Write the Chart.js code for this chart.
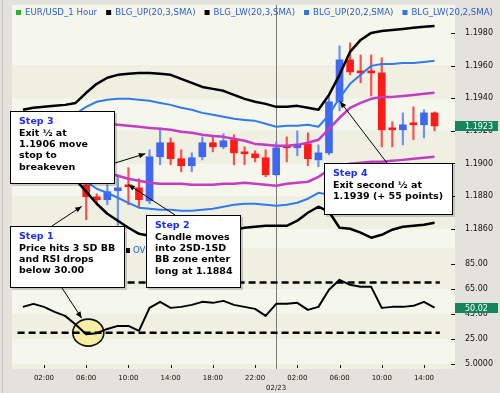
<!DOCTYPE html>
<html>
<head>
<meta charset="utf-8">
<title>EUR/USD 1 Hour</title>
<script src="https://cdn.jsdelivr.net/npm/chart.js@4.4.1/dist/chart.umd.min.js"></script>
<style>
  html, body { margin: 0; padding: 0; background: #e4e2dc; overflow: hidden; }
  canvas { display: block; }
</style>
</head>
<body>
<canvas id="fxChart" width="500" height="393"></canvas>
<script>
// ---- data (hour 0 = 00:00 on 02/22) ----
const hours = [0, 1, 2, 3, 4, 5, 6, 7, 8, 9, 10, 11, 12, 13, 14, 15, 16, 17, 18, 19,
               20, 21, 22, 23, 24, 25, 26, 27, 28, 29, 30, 31, 32, 33, 34, 35, 36, 37, 38, 39];

const openPrice = [1.19084, 1.19108, 1.19053, 1.19022, 1.19047, 1.18986, 1.18869, 1.18796, 1.18778, 1.18833,
                   1.18863, 1.18851, 1.18771, 1.19041, 1.19127, 1.19029, 1.18986, 1.19041, 1.19127, 1.19102,
                   1.19145, 1.19071, 1.19059, 1.19035, 1.18931, 1.19102, 1.19096, 1.19120, 1.19022, 1.19065,
                   1.19378, 1.19635, 1.19567, 1.19561, 1.19555, 1.19212, 1.19206, 1.19243, 1.19237, 1.19310];
const highPrice = [1.19133, 1.19145, 1.19084, 1.19071, 1.19084, 1.19022, 1.18912, 1.18814, 1.18869, 1.18931,
                   1.18974, 1.18906, 1.19084, 1.19218, 1.19157, 1.19084, 1.19065, 1.19163, 1.19163, 1.19182,
                   1.19176, 1.19102, 1.19078, 1.19084, 1.19133, 1.19163, 1.19200, 1.19188, 1.19114, 1.19408,
                   1.19720, 1.19739, 1.19665, 1.19665, 1.19647, 1.19255, 1.19310, 1.19347, 1.19329, 1.19316];
const lowPrice = [1.19047, 1.19022, 1.18992, 1.18974, 1.18961, 1.18900, 1.18655, 1.18759, 1.18747, 1.18490,
                  1.18747, 1.18735, 1.18753, 1.18992, 1.18992, 1.18949, 1.18949, 1.19022, 1.19071, 1.19090,
                  1.18992, 1.18992, 1.19010, 1.18918, 1.18925, 1.19010, 1.19047, 1.18986, 1.18980, 1.19053,
                  1.19322, 1.19543, 1.19494, 1.19414, 1.19102, 1.19102, 1.19114, 1.19145, 1.19157, 1.19200];
const closePrice = [1.19108, 1.19053, 1.19022, 1.19047, 1.18986, 1.18931, 1.18796, 1.18778, 1.18827, 1.18851,
                    1.18857, 1.18778, 1.19041, 1.19127, 1.19029, 1.18986, 1.19035, 1.19127, 1.19102, 1.19139,
                    1.19065, 1.19059, 1.19035, 1.18931, 1.19096, 1.19096, 1.19114, 1.19029, 1.19065, 1.19378,
                    1.19635, 1.19561, 1.19555, 1.19555, 1.19206, 1.19206, 1.19237, 1.19237, 1.19310, 1.19230];

// Bollinger bands: 3 SD (black), 2 SD (blue), 1 SD (magenta)
const bandUp3 = [1.19329, 1.19341, 1.19347, 1.19353, 1.19359, 1.19371, 1.19433, 1.19488, 1.19525, 1.19543,
                 1.19549, 1.19555, 1.19555, 1.19549, 1.19543, 1.19518, 1.19494, 1.19469, 1.19457, 1.19445,
                 1.19420, 1.19396, 1.19378, 1.19365, 1.19347, 1.19347, 1.19353, 1.19341, 1.19329, 1.19420,
                 1.19543, 1.19684, 1.19757, 1.19800, 1.19812, 1.19818, 1.19824, 1.19831, 1.19837, 1.19843];
const bandLw3 = [1.18974, 1.18961, 1.18949, 1.18937, 1.18925, 1.18900, 1.18827, 1.18753, 1.18692, 1.18649,
                 1.18606, 1.18569, 1.18557, 1.18551, 1.18545, 1.18545, 1.18551, 1.18557, 1.18569, 1.18582,
                 1.18594, 1.18606, 1.18612, 1.18618, 1.18618, 1.18618, 1.18649, 1.18698, 1.18735, 1.18704,
                 1.18606, 1.18600, 1.18576, 1.18545, 1.18563, 1.18594, 1.18612, 1.18618, 1.18625, 1.18637];
const bandUp2 = [1.19280, 1.19280, 1.19286, 1.19286, 1.19292, 1.19304, 1.19347, 1.19378, 1.19390, 1.19396,
                 1.19396, 1.19390, 1.19384, 1.19371, 1.19359, 1.19341, 1.19329, 1.19310, 1.19298, 1.19286,
                 1.19274, 1.19267, 1.19261, 1.19243, 1.19225, 1.19231, 1.19231, 1.19237, 1.19225, 1.19298,
                 1.19402, 1.19488, 1.19543, 1.19598, 1.19610, 1.19610, 1.19616, 1.19616, 1.19622, 1.19629];
const bandLw2 = [1.18992, 1.18986, 1.18980, 1.18974, 1.18967, 1.18949, 1.18888, 1.18845, 1.18820, 1.18790,
                 1.18759, 1.18729, 1.18723, 1.18716, 1.18716, 1.18710, 1.18710, 1.18716, 1.18723, 1.18735,
                 1.18747, 1.18753, 1.18753, 1.18747, 1.18741, 1.18747, 1.18759, 1.18784, 1.18820, 1.18808,
                 1.18778, 1.18759, 1.18741, 1.18729, 1.18741, 1.18753, 1.18765, 1.18778, 1.18784, 1.18790];
const bandUp1 = [1.19206, 1.19206, 1.19206, 1.19212, 1.19212, 1.19218, 1.19231, 1.19237, 1.19243, 1.19237,
                 1.19231, 1.19225, 1.19218, 1.19212, 1.19206, 1.19194, 1.19188, 1.19176, 1.19169, 1.19163,
                 1.19151, 1.19139, 1.19120, 1.19114, 1.19108, 1.19108, 1.19114, 1.19127, 1.19145, 1.19212,
                 1.19280, 1.19341, 1.19371, 1.19396, 1.19408, 1.19408, 1.19414, 1.19420, 1.19427, 1.19433];
const bandLw1 = [1.19022, 1.19016, 1.19010, 1.19004, 1.18998, 1.18986, 1.18974, 1.18955, 1.18943, 1.18925,
                 1.18906, 1.18894, 1.18882, 1.18876, 1.18876, 1.18876, 1.18869, 1.18869, 1.18869, 1.18876,
                 1.18876, 1.18882, 1.18876, 1.18869, 1.18863, 1.18876, 1.18882, 1.18888, 1.18918, 1.18961,
                 1.18986, 1.18998, 1.19004, 1.19010, 1.19010, 1.19016, 1.19022, 1.19029, 1.19035, 1.19041];

const rsiValues = [50.6, 53.0, 50.6, 46.6, 43.4, 36.6, 28.8, 29.6, 33.0, 35.4,
                   35.4, 31.4, 49.8, 54.6, 49.8, 50.6, 52.2, 54.6, 53.8, 55.4,
                   52.2, 50.6, 49.0, 43.4, 53.0, 53.0, 53.8, 48.2, 50.6, 64.2,
                   72.2, 68.2, 66.6, 66.6, 49.8, 50.6, 50.6, 51.4, 54.6, 50.02];
const rsiLevels = [70, 30];
const rsiLevelSpan = [-0.5, 39.5];

const timeTicks = [2, 6, 10, 14, 18, 22, 26, 30, 34, 38];
const timeTickLabels = ['02:00', '06:00', '10:00', '14:00', '18:00', '22:00', '02:00', '06:00', '10:00', '14:00'];
const dayBreaks = [24];
const dayBreakLabels = ['02/23'];
const priceTicks = [1.186, 1.188, 1.190, 1.192, 1.194, 1.196, 1.198];
const rsiTicks = [5, 25, 45, 65, 85];
const rsiTickLabels = ['5.0000', '25.00', '45.00', '65.00', '85.00'];
const lastPrice = 1.1923;
const lastRsi = 50.02;

const legendLabels = ['EUR/USD_1 Hour', 'BLG_UP(20,3,SMA)', 'BLG_LW(20,3,SMA)', 'BLG_UP(20,2,SMA)', 'BLG_LW(20,2,SMA)'];

// ---- styling ----
const FONT = '"DejaVu Sans", Verdana, sans-serif';
const UP_COLOR = '#4068ee';
const DOWN_COLOR = '#ff1a1a';
const UP_WICK = '#6f8ff5';
const DOWN_WICK = '#ff4d4d';
const legendSwatches = ['#29b329', '#000000', '#000000', '#2f73ee', '#2f73ee'];

Chart.defaults.font.family = FONT;
Chart.defaults.color = '#111';

const isUp = hours.map((h, i) => closePrice[i] > openPrice[i]);
const series = arr => hours.map((h, i) => ({ x: h, y: arr[i] }));

const notes = [
  { rect: [10, 111, 105, 73], lines: ['Step 3', 'Exit ½ at', '1.1906 move', 'stop to', 'breakeven'],
    arrows: [{ from: [115, 163], x: 11.6, y: 1.1906 }] },
  { rect: [10, 226, 115, 62], lines: ['Step 1', 'Price hits 3 SD BB', 'and RSI drops', 'below 30.00'],
    arrows: [{ from: [52, 226], x: 5.57, y: 1.18737 }, { from: [62, 288], x: 5.57, rsi: 41.6 }] },
  { rect: [146, 215, 95, 73], lines: ['Step 2', 'Candle moves', 'into 2SD-1SD', 'BB zone enter', 'long at 1.1884'],
    arrows: [{ from: [175, 215], x: 10, y: 1.1887 }] },
  { rect: [324, 163, 129, 52], lines: ['Step 4', 'Exit second ½ at', '1.1939 (+ 55 points)'],
    arrows: [{ from: [387, 163], x: 30.05, y: 1.1938 }] }
];

function drawStripes(ctx, area, scale, edgeValues, firstDark) {
  const edges = [scale.top].concat(edgeValues.map(v => scale.getPixelForValue(v)), [scale.bottom]);
  for (let i = 0; i < edges.length - 1; i++) {
    const dark = (i % 2 === 0) === firstDark;
    ctx.fillStyle = dark ? '#eff0e2' : '#f6f7ec';
    ctx.fillRect(area.left, edges[i], area.right - area.left, edges[i + 1] - edges[i]);
  }
}

function drawArrow(ctx, x1, y1, x2, y2) {
  const ang = Math.atan2(y2 - y1, x2 - x1);
  ctx.beginPath();
  ctx.moveTo(x1, y1);
  ctx.lineTo(x2, y2);
  ctx.stroke();
  ctx.beginPath();
  ctx.moveTo(x2, y2);
  ctx.lineTo(x2 - 7 * Math.cos(ang - 0.4), y2 - 7 * Math.sin(ang - 0.4));
  ctx.lineTo(x2 - 7 * Math.cos(ang + 0.4), y2 - 7 * Math.sin(ang + 0.4));
  ctx.closePath();
  ctx.fill();
}

function valueTag(ctx, area, scale, value, text) {
  const y = scale.getPixelForValue(value);
  ctx.fillStyle = '#16855d';
  ctx.fillRect(area.right, Math.round(y) - 5, 43, 10);
  ctx.fillStyle = '#ffffff';
  ctx.font = '8px ' + FONT;
  ctx.textAlign = 'left';
  ctx.textBaseline = 'middle';
  ctx.fillText(text, area.right + 10, Math.round(y) + 0.5);
}

const chartDecor = {
  id: 'chartDecor',
  beforeDraw(chart) {
    const { ctx, chartArea: a, scales } = chart;
    ctx.save();
    ctx.fillStyle = '#e4e2dc';
    ctx.fillRect(0, 0, chart.width, chart.height);
    ctx.strokeStyle = '#c4c2bb';
    ctx.lineWidth = 1;
    ctx.beginPath();
    ctx.moveTo(2.5, 0);
    ctx.lineTo(2.5, chart.height);
    ctx.stroke();
    drawStripes(ctx, a, scales.y, priceTicks.slice(0, -1).reverse(), false);
    drawStripes(ctx, a, scales.rsi, rsiTicks.slice(0, -1).reverse(), true);
    ctx.restore();
  },
  beforeDatasetsDraw(chart) {
    const { ctx, chartArea: a, scales } = chart;
    ctx.save();
    // day separator
    ctx.strokeStyle = '#7a7a7a';
    ctx.lineWidth = 1;
    dayBreaks.forEach(h => {
      const x = Math.round(scales.x.getPixelForValue(h)) + 0.5;
      ctx.beginPath();
      ctx.moveTo(x, a.top);
      ctx.lineTo(x, a.bottom);
      ctx.stroke();
    });
    // oversold highlight
    const cx = scales.x.getPixelForValue(6.2);
    const cy = scales.rsi.getPixelForValue(30);
    ctx.beginPath();
    ctx.ellipse(cx, cy, 15.5, 13.5, 0, 0, Math.PI * 2);
    ctx.fillStyle = '#f6efa2';
    ctx.fill();
    ctx.lineWidth = 1.6;
    ctx.strokeStyle = '#111';
    ctx.stroke();
    ctx.restore();
  },
  afterDraw(chart) {
    const { ctx, chartArea: a, scales } = chart;
    ctx.save();

    // tick marks inside the plot edge
    ctx.strokeStyle = '#111';
    ctx.lineWidth = 1;
    [scales.y, scales.rsi].forEach(s => {
      s.ticks.forEach(t => {
        const y = Math.round(s.getPixelForValue(t.value)) + 0.5;
        ctx.beginPath();
        ctx.moveTo(a.right - 4, y);
        ctx.lineTo(a.right, y);
        ctx.stroke();
      });
    });
    scales.x.ticks.forEach(t => {
      const x = Math.round(scales.x.getPixelForValue(t.value)) + 0.5;
      ctx.beginPath();
      ctx.moveTo(x, a.bottom - 4);
      ctx.lineTo(x, a.bottom - 1);
      ctx.stroke();
    });

    // date under the axis
    ctx.fillStyle = '#111';
    ctx.font = '7px ' + FONT;
    ctx.textAlign = 'center';
    ctx.textBaseline = 'middle';
    dayBreaks.forEach((h, i) => {
      ctx.fillText(dayBreakLabels[i], scales.x.getPixelForValue(h), 388);
    });

    // legend strip
    ctx.font = '8.6px ' + FONT;
    ctx.textAlign = 'left';
    let lx = 16;
    legendLabels.forEach((label, i) => {
      ctx.fillStyle = legendSwatches[i];
      ctx.fillRect(lx, 10, 5, 5);
      ctx.fillStyle = '#2a5bd6';
      ctx.fillText(label, lx + 9, 13);
      lx += 9 + ctx.measureText(label).width + 9;
    });
    // RSI pane legend, mostly hidden by the note box
    ctx.fillStyle = '#111';
    ctx.fillRect(126, 248, 4, 5);
    ctx.fillStyle = '#2a5bd6';
    ctx.fillText('OVERBOUGHT', 133, 251);

    // value tags on the right axis
    valueTag(ctx, a, scales.y, lastPrice, lastPrice.toFixed(4));
    valueTag(ctx, a, scales.rsi, lastRsi, lastRsi.toFixed(2));

    // notes with arrows
    notes.forEach(n => {
      const [bx, by, bw, bh] = n.rect;
      ctx.fillStyle = 'rgba(0,0,0,0.18)';
      ctx.fillRect(bx + 2, by + 2, bw, bh);
      ctx.fillStyle = '#ffffff';
      ctx.fillRect(bx, by, bw, bh);
      ctx.strokeStyle = '#000';
      ctx.lineWidth = 1;
      ctx.strokeRect(bx + 0.5, by + 0.5, bw - 1, bh - 1);
      ctx.font = 'bold 9.5px ' + FONT;
      ctx.textAlign = 'left';
      ctx.textBaseline = 'middle';
      n.lines.forEach((line, i) => {
        ctx.fillStyle = i === 0 ? '#1c2cf2' : '#000';
        ctx.fillText(line, bx + 9, by + 11 + i * 11.3);
      });
    });
    ctx.strokeStyle = '#000';
    ctx.fillStyle = '#000';
    ctx.lineWidth = 1;
    notes.forEach(n => {
      n.arrows.forEach(ar => {
        const tx = scales.x.getPixelForValue(ar.x);
        const ty = ar.rsi !== undefined ? scales.rsi.getPixelForValue(ar.rsi) : scales.y.getPixelForValue(ar.y);
        drawArrow(ctx, ar.from[0], ar.from[1], tx, ty);
      });
    });
    ctx.restore();
  }
};

const lineSet = (label, arr, color, width, axis) => ({
  type: 'line', label, data: series(arr), yAxisID: axis || 'y',
  borderColor: color, borderWidth: width, pointRadius: 0, tension: 0,
  borderJoinStyle: 'round', fill: false
});

new Chart(document.getElementById('fxChart'), {
  type: 'line',
  data: {
    datasets: [
      lineSet('BLG_UP(20,3,SMA)', bandUp3, '#000000', 2.5),
      lineSet('BLG_LW(20,3,SMA)', bandLw3, '#000000', 2.5),
      lineSet('BLG_UP(20,2,SMA)', bandUp2, '#2f7bf0', 2),
      lineSet('BLG_LW(20,2,SMA)', bandLw2, '#2f7bf0', 2),
      lineSet('BLG_UP(20,1,SMA)', bandUp1, '#c43cc4', 2.5),
      lineSet('BLG_LW(20,1,SMA)', bandLw1, '#c43cc4', 2.5),
      lineSet('RSI', rsiValues, '#000000', 2, 'rsi'),
      ...rsiLevels.map(level => ({
        type: 'line', label: 'RSI ' + level, yAxisID: 'rsi',
        data: rsiLevelSpan.map(h => ({ x: h, y: level })),
        borderColor: '#000', borderWidth: 2.5, borderDash: [7, 4], pointRadius: 0
      })),
      {
        type: 'bar', label: 'EUR/USD_1 Hour',
        data: hours.map((h, i) => ({ x: h, y: [openPrice[i], closePrice[i]] })),
        backgroundColor: isUp.map(u => u ? UP_COLOR : DOWN_COLOR),
        barThickness: 7, minBarLength: 2, grouped: false, borderWidth: 0
      },
      {
        type: 'bar', label: 'range',
        data: hours.map((h, i) => ({ x: h, y: [lowPrice[i], highPrice[i]] })),
        backgroundColor: isUp.map(u => u ? UP_WICK : DOWN_WICK),
        barThickness: 1.5, grouped: false, borderWidth: 0
      }
    ]
  },
  options: {
    responsive: false,
    animation: false,
    events: [],
    layout: { padding: { left: 12, top: 5, right: 0, bottom: 0 } },
    plugins: { legend: { display: false }, tooltip: { enabled: false } },
    scales: {
      x: {
        type: 'linear', min: -1.03, max: 40.94, offset: false,
        afterBuildTicks: s => { s.ticks = timeTicks.map(v => ({ value: v })); },
        ticks: {
          callback: (v, i) => timeTickLabels[i],
          font: { size: 7 }, color: '#111', padding: 5, maxRotation: 0, autoSkip: false
        },
        grid: { display: false, drawTicks: false },
        border: { display: false },
        afterFit: s => { s.height = 24; s.paddingLeft = 0; s.paddingRight = 0; }
      },
      y: {
        position: 'right', stack: 'pane', stackWeight: 243, weight: 0,
        min: 1.18482, max: 1.19971,
        afterBuildTicks: s => { s.ticks = priceTicks.map(v => ({ value: v })); },
        ticks: { callback: v => v.toFixed(4), font: { size: 8 }, color: '#111', padding: 10, autoSkip: false },
        grid: { display: false, drawTicks: false },
        border: { display: false },
        afterFit: s => { s.width = 45; s.paddingTop = 0; s.paddingBottom = 0; }
      },
      rsi: {
        position: 'right', stack: 'pane', stackWeight: 121, weight: 1,
        min: 1, max: 97.6,
        afterBuildTicks: s => { s.ticks = rsiTicks.map(v => ({ value: v })); },
        ticks: { callback: (v, i) => rsiTickLabels[i], font: { size: 8 }, color: '#111', padding: 10, autoSkip: false },
        grid: { display: false, drawTicks: false },
        border: { display: false },
        afterFit: s => { s.width = 45; s.paddingTop = 0; s.paddingBottom = 0; }
      }
    }
  },
  plugins: [chartDecor]
});
</script>
</body>
</html>
